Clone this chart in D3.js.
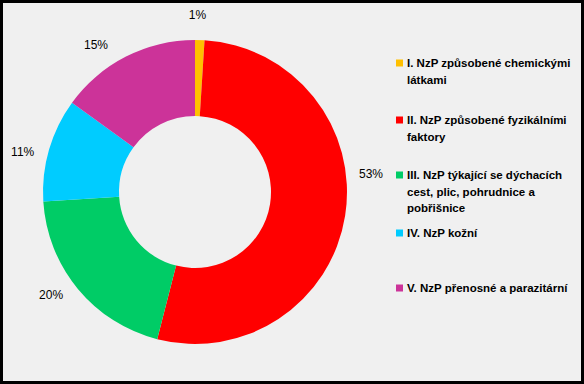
<!DOCTYPE html>
<html>
<head>
<meta charset="utf-8">
<script src="https://cdn.jsdelivr.net/npm/d3@7"></script>
<style>
  body { margin: 0; background: #f0f0f0; }
  text { font-family: "Liberation Sans", Arial, sans-serif; }
</style>
</head>
<body>
<script>
// data
var categories = [
  "I. NzP způsobené chemickými látkami",
  "II. NzP způsobené fyzikálními faktory",
  "III. NzP týkající se dýchacích cest, plic, pohrudnice a pobřišnice",
  "IV. NzP kožní",
  "V. NzP přenosné a parazitární"
];
var legendLines = [
  ["I. NzP způsobené chemickými", "látkami"],
  ["II. NzP způsobené fyzikálními", "faktory"],
  ["III. NzP týkající se dýchacích", "cest, plic, pohrudnice a", "pobřišnice"],
  ["IV. NzP kožní"],
  ["V. NzP přenosné a parazitární"]
];
var shares = [1, 53, 20, 11, 15];
var colors = ["#ffc000", "#ff0000", "#00cc66", "#00ccff", "#cc3399"];
// the labels were dragged a little in the original, angle nudge in degrees
var labelNudge = [-1, -15, 4, -3, -7];

var width = 584, height = 384;
var cx = 195, cy = 192;
var outerR = 152, innerR = 76;

const svg = d3
  .select("body")
  .append("svg")
  .attr("width", width)
  .attr("height", height);

svg.append("rect")
  .attr("x", 1.5).attr("y", 1.5)
  .attr("width", width - 3).attr("height", height - 3)
  .attr("fill", "#f0f0f0")
  .attr("stroke", "#000")
  .attr("stroke-width", 3);

const pie = d3.pie().sort(null).value(d => d);
const arcs = pie(shares);
const arc = d3.arc().innerRadius(innerR).outerRadius(outerR);

const g = svg.append("g").attr("transform", "translate(" + cx + "," + cy + ")");

g.selectAll("path")
  .data(arcs)
  .enter()
  .append("path")
  .attr("d", arc)
  .attr("fill", (d, i) => colors[i]);

function labelPos(d, i) {
  var a = (d.startAngle + d.endAngle) / 2 + labelNudge[i] * Math.PI / 180;
  var r = 177;
  return [Math.sin(a) * r, -Math.cos(a) * r];
}

g.selectAll("text.pct")
  .data(arcs)
  .enter()
  .append("text")
  .attr("class", "pct")
  .attr("transform", (d, i) => "translate(" + labelPos(d, i) + ")")
  .attr("text-anchor", "middle")
  .attr("dy", "0.35em")
  .style("font-size", "12px")
  .text(d => d.data + "%");

// legend
var legendTop = [63, 120, 175, 233, 288];
const leg = svg.append("g");
categories.forEach(function (c, i) {
  leg.append("rect")
    .attr("x", 396).attr("y", legendTop[i] - 3.5)
    .attr("width", 7).attr("height", 7)
    .attr("fill", colors[i]);
  var t = leg.append("text")
    .attr("x", 407)
    .attr("y", legendTop[i] + 4)
    .style("font-size", "11.5px")
    .style("font-weight", "bold");
  legendLines[i].forEach(function (line, j) {
    t.append("tspan")
      .attr("x", 407)
      .attr("dy", j === 0 ? 0 : 16.5)
      .text(line);
  });
});
</script>
</body>
</html>
